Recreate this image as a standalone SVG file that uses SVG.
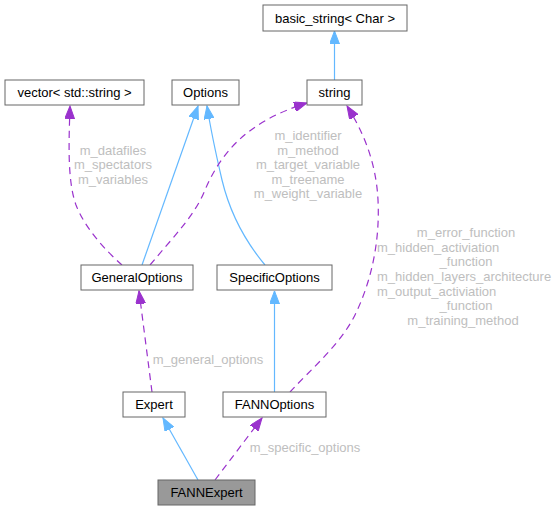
<svg xmlns="http://www.w3.org/2000/svg" width="556" height="511" viewBox="0 0 556 511">
<defs>
<style>
.node rect{fill:#ffffff;stroke:#666666;stroke-width:1}
.node text{font-family:"Liberation Sans",Arial,sans-serif;font-size:13px;fill:#000000;text-anchor:middle}
.inh{fill:none;stroke:#63b8ff;stroke-width:1.2}
.use{fill:none;stroke:#9a32cd;stroke-width:1.2;stroke-dasharray:7,5}
.lbl{font-family:"Liberation Sans",Arial,sans-serif;font-size:13px;fill:#bebebe;text-anchor:middle}
.lbls{font-family:"Liberation Sans",Arial,sans-serif;font-size:13px;fill:#bebebe;text-anchor:start}
</style>
<marker id="ab" markerUnits="userSpaceOnUse" markerWidth="14" markerHeight="10" refX="13" refY="5" orient="auto" viewBox="0 0 14 10">
<path d="M0,0 L13,5 L0,10 z" fill="#63b8ff" stroke="#63b8ff"/>
</marker>
<marker id="ap" markerUnits="userSpaceOnUse" markerWidth="14" markerHeight="10" refX="13" refY="5" orient="auto" viewBox="0 0 14 10">
<path d="M0,0 L13,5 L0,10 z" fill="#9a32cd" stroke="#9a32cd"/>
</marker>
</defs>
<rect x="0" y="0" width="556" height="511" fill="#ffffff"/>
<g id="connectors">
<path class="inh" d="M334.5,80 L334.5,31" marker-end="url(#ab)"/>
<path class="inh" d="M142,265 L198,106" marker-end="url(#ab)"/>
<path class="inh" d="M265,265 C240,235 228,205 222,180 C215,150 210,125 207,106" marker-end="url(#ab)"/>
<path class="use" d="M122,265 C105,250 85,228 76,205 C67,180 69,140 70,106" marker-end="url(#ap)"/>
<path class="use" d="M150,265 C175,235 195,215 205,190 C220,155 245,122 307,103" marker-end="url(#ap)"/>
<path class="use" d="M290,392 C310,370 340,345 355,315 C372,280 380,240 378,200 C376,160 362,130 347,106" marker-end="url(#ap)"/>
<path class="inh" d="M274.5,392 L274.5,291" marker-end="url(#ab)"/>
<path class="use" d="M152,392 L139,291" marker-end="url(#ap)"/>
<path class="inh" d="M198,480 L163,418" marker-end="url(#ab)"/>
<path class="use" d="M215,480 L262,418" marker-end="url(#ap)"/>
<text class="lbl" x="113" y="155">m_datafiles</text>
<text class="lbl" x="113" y="169">m_spectators</text>
<text class="lbl" x="113" y="184">m_variables</text>
<text class="lbl" x="308" y="140">m_identifier</text>
<text class="lbl" x="308" y="155">m_method</text>
<text class="lbl" x="308" y="169">m_target_variable</text>
<text class="lbl" x="308" y="184">m_treename</text>
<text class="lbl" x="308" y="198">m_weight_variable</text>
<text class="lbl" x="466" y="237">m_error_function</text>
<text class="lbls" x="377" y="252">m_hidden_activiation</text>
<text class="lbl" x="466" y="266">_function</text>
<text class="lbls" x="377" y="281">m_hidden_layers_architecture</text>
<text class="lbls" x="377" y="296">m_output_activiation</text>
<text class="lbl" x="466" y="310">_function</text>
<text class="lbl" x="463" y="325">m_training_method</text>
<text class="lbl" x="208" y="364">m_general_options</text>
<text class="lbl" x="305" y="452">m_specific_options</text>
</g>
<g id="basic_string" class="node"><rect x="263" y="5" width="144" height="26"/><text x="335" y="22.5">basic_string&lt; Char &gt;</text></g>
<g id="vector" class="node"><rect x="5" y="80" width="139" height="25"/><text x="74.5" y="97">vector&lt; std::string &gt;</text></g>
<g id="Options" class="node"><rect x="172" y="80" width="67" height="25"/><text x="205.5" y="97">Options</text></g>
<g id="string" class="node"><rect x="307" y="80" width="55" height="25"/><text x="334.5" y="97">string</text></g>
<g id="GeneralOptions" class="node"><rect x="81" y="265" width="112" height="25"/><text x="137" y="282">GeneralOptions</text></g>
<g id="SpecificOptions" class="node"><rect x="217" y="265" width="115" height="25"/><text x="274.5" y="282">SpecificOptions</text></g>
<g id="Expert" class="node"><rect x="123" y="392" width="62" height="25"/><text x="154" y="409">Expert</text></g>
<g id="FANNOptions" class="node"><rect x="223" y="392" width="103" height="25"/><text x="274.5" y="409">FANNOptions</text></g>
<g id="FANNExpert" class="node"><rect x="158" y="480" width="97" height="25" style="fill:#999999"/><text x="206.5" y="497">FANNExpert</text></g>
</svg>
